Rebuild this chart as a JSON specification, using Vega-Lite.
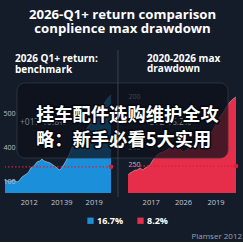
{
  "$schema": "https://vega.github.io/schema/vega-lite/v6.json",
  "background": "#141b29",
  "padding": {"left": 3, "top": 8, "right": 0, "bottom": 0},
  "autosize": {"type": "pad"},
  "bounds": "flush",
  "spacing": 17,
  "title": {
    "text": ["2026-Q1+ return comparison", "conplience max drawdown"],
    "anchor": "middle",
    "font": "Open Sans",
    "fontSize": 13.2,
    "fontWeight": "bold",
    "color": "#ffffff",
    "lineHeight": 14,
    "offset": 13
  },
  "config": {
    "view": {"stroke": null},
    "font": "Open Sans",
    "axis": {"grid": false, "domain": false, "ticks": false, "tickSize": 0, "title": null, "labelFont": "Open Sans"}
  },
  "resolve": {"scale": {"color": "shared"}},
  "hconcat": [
    {
      "width": 106,
      "height": 143,
      "title": {"text": ["2026 Q1+ return:", "benchmark"], "anchor": "start", "dx": 10, "font": "Open Sans", "fontSize": 10, "fontWeight": "bold", "color": "#ffffff", "lineHeight": 10.5, "offset": -24.5, "frame": "group"},
      "layer": [
        {
          "data": {"values": [
            {"t": 2009.80, "v": 77, "s": "16.7%"}, {"t": 2010.08, "v": 71, "s": "16.7%"}, {"t": 2010.35, "v": 71, "s": "16.7%"},
            {"t": 2010.63, "v": 77, "s": "16.7%"}, {"t": 2010.91, "v": 65, "s": "16.7%"}, {"t": 2011.09, "v": 71, "s": "16.7%"},
            {"t": 2011.37, "v": 95, "s": "16.7%"}, {"t": 2011.65, "v": 107, "s": "16.7%"}, {"t": 2011.93, "v": 119, "s": "16.7%"},
            {"t": 2012.20, "v": 148, "s": "16.7%"}, {"t": 2012.48, "v": 160, "s": "16.7%"}, {"t": 2012.76, "v": 184, "s": "16.7%"},
            {"t": 2013.03, "v": 190, "s": "16.7%"}, {"t": 2013.22, "v": 201, "s": "16.7%"}, {"t": 2013.40, "v": 190, "s": "16.7%"},
            {"t": 2013.68, "v": 184, "s": "16.7%"}, {"t": 2013.96, "v": 178, "s": "16.7%"}, {"t": 2014.24, "v": 166, "s": "16.7%"},
            {"t": 2014.51, "v": 154, "s": "16.7%"}, {"t": 2014.70, "v": 142, "s": "16.7%"}, {"t": 2014.88, "v": 136, "s": "16.7%"},
            {"t": 2015.16, "v": 160, "s": "16.7%"}, {"t": 2015.44, "v": 190, "s": "16.7%"}, {"t": 2015.71, "v": 225, "s": "16.7%"},
            {"t": 2015.99, "v": 267, "s": "16.7%"}, {"t": 2016.36, "v": 302, "s": "16.7%"}, {"t": 2016.73, "v": 326, "s": "16.7%"},
            {"t": 2017.10, "v": 356, "s": "16.7%"}, {"t": 2017.47, "v": 391, "s": "16.7%"}, {"t": 2017.84, "v": 427, "s": "16.7%"},
            {"t": 2018.21, "v": 456, "s": "16.7%"}, {"t": 2018.58, "v": 492, "s": "16.7%"}, {"t": 2018.95, "v": 527, "s": "16.7%"},
            {"t": 2019.32, "v": 563, "s": "16.7%"}, {"t": 2019.60, "v": 581, "s": "16.7%"}
          ]},
          "layer": [
            {
              "mark": {"type": "area", "opacity": 1},
              "encoding": {
                "x": {"field": "t", "type": "quantitative", "scale": {"domain": [2009.8, 2019.6], "nice": false, "zero": false},
                  "axis": {"values": [2012, 2015, 2018], "labelExpr": "datum.value == 2012 ? '2012' : datum.value == 2015 ? '20139' : '2019'", "labelColor": "#c3cad5", "labelFontSize": 7.5, "labelPadding": 5}},
                "y": {"field": "v", "type": "quantitative", "scale": {"domain": [0, 847], "nice": false, "zero": true},
                  "axis": {"values": [70, 170, 270, 370, 470, 570], "labelExpr": "datum.value == 70 ? '100' : datum.value == 170 ? '200' : datum.value == 270 ? '400' : datum.value == 370 ? '400' : datum.value == 470 ? '500' : '300'", "labelAlign": "left", "labelPadding": 2, "labelColor": "#b8c0cc", "labelFontSize": 7, "zindex": 1}},
                "color": {"field": "s", "type": "nominal", "scale": {"domain": ["16.7%", "8.2%"], "range": ["#1b8fd9", "#e62e4a"]},
                  "legend": {"orient": "none", "legendX": 81, "legendY": 166, "direction": "horizontal", "title": null, "symbolType": "square", "symbolSize": 40, "symbolStrokeWidth": 0, "symbolOpacity": 1, "labelColor": "#ffffff", "labelFontSize": 9, "labelFontWeight": "bold", "labelFont": "Open Sans", "labelOffset": 2, "columnPadding": 12}}
              }
            },
            {
              "mark": {"type": "line", "color": "#cfe6fa", "strokeWidth": 0.7, "opacity": 0.8},
              "encoding": {"x": {"field": "t", "type": "quantitative"}, "y": {"field": "v", "type": "quantitative"}}
            }
          ]
        },
        {
          "data": {"values": [{"t": 2019.6, "v": 155}]},
          "layer": [
            {"mark": {"type": "rule", "color": "#d91f3a", "strokeDash": [1.5, 2], "strokeWidth": 1.4}, "encoding": {"y": {"field": "v", "type": "quantitative"}}},
            {"mark": {"type": "point", "filled": true, "color": "#d91f3a", "size": 22, "opacity": 1}, "encoding": {"x": {"field": "t", "type": "quantitative"}, "y": {"field": "v", "type": "quantitative"}}}
          ]
        }
      ]
    },
    {
      "width": 108,
      "height": 143,
      "title": {"text": ["2020-2026 max", "drawdown"], "anchor": "start", "dx": 19, "font": "Open Sans", "fontSize": 10, "fontWeight": "bold", "color": "#ffffff", "lineHeight": 10.5, "offset": -24.5, "frame": "group"},
      "layer": [
        {
          "data": {"values": [
            {"t": 2009.90, "v": 107, "s": "8.2%"}, {"t": 2010.09, "v": 119, "s": "8.2%"}, {"t": 2010.27, "v": 124, "s": "8.2%"},
            {"t": 2010.55, "v": 136, "s": "8.2%"}, {"t": 2010.73, "v": 136, "s": "8.2%"}, {"t": 2011.01, "v": 148, "s": "8.2%"},
            {"t": 2011.29, "v": 136, "s": "8.2%"}, {"t": 2011.47, "v": 148, "s": "8.2%"}, {"t": 2011.66, "v": 154, "s": "8.2%"},
            {"t": 2011.94, "v": 166, "s": "8.2%"}, {"t": 2012.21, "v": 196, "s": "8.2%"}, {"t": 2012.59, "v": 225, "s": "8.2%"},
            {"t": 2012.86, "v": 237, "s": "8.2%"}, {"t": 2013.14, "v": 243, "s": "8.2%"}, {"t": 2013.51, "v": 255, "s": "8.2%"},
            {"t": 2013.79, "v": 267, "s": "8.2%"}, {"t": 2014.16, "v": 273, "s": "8.2%"}, {"t": 2014.44, "v": 273, "s": "8.2%"},
            {"t": 2014.71, "v": 261, "s": "8.2%"}, {"t": 2014.99, "v": 243, "s": "8.2%"}, {"t": 2015.36, "v": 255, "s": "8.2%"},
            {"t": 2015.64, "v": 273, "s": "8.2%"}, {"t": 2015.92, "v": 284, "s": "8.2%"}, {"t": 2016.29, "v": 290, "s": "8.2%"},
            {"t": 2016.57, "v": 296, "s": "8.2%"}, {"t": 2016.94, "v": 308, "s": "8.2%"}, {"t": 2017.21, "v": 320, "s": "8.2%"},
            {"t": 2017.49, "v": 344, "s": "8.2%"}, {"t": 2017.77, "v": 373, "s": "8.2%"}, {"t": 2018.14, "v": 421, "s": "8.2%"},
            {"t": 2018.42, "v": 450, "s": "8.2%"}, {"t": 2018.79, "v": 486, "s": "8.2%"}, {"t": 2019.07, "v": 516, "s": "8.2%"},
            {"t": 2019.34, "v": 539, "s": "8.2%"}, {"t": 2019.62, "v": 557, "s": "8.2%"}, {"t": 2019.90, "v": 569, "s": "8.2%"}
          ]},
          "layer": [
            {
              "mark": {"type": "area", "opacity": 1},
              "encoding": {
                "x": {"field": "t", "type": "quantitative", "scale": {"domain": [2009.9, 2019.9], "nice": false, "zero": false},
                  "axis": {"values": [2012, 2015, 2018], "labelExpr": "datum.value == 2012 ? '2017' : datum.value == 2015 ? '2026' : '2019'", "labelColor": "#c3cad5", "labelFontSize": 7.5, "labelPadding": 5}},
                "y": {"field": "v", "type": "quantitative", "scale": {"domain": [0, 847], "nice": false, "zero": true},
                  "axis": {"values": [170, 270, 570], "labelExpr": "datum.value == 570 ? '200' : '250'", "labelAlign": "left", "labelPadding": 0, "labelColor": "#b8c0cc", "labelFontSize": 7, "zindex": 0}},
                "color": {"field": "s", "type": "nominal"}
              }
            },
            {
              "mark": {"type": "line", "color": "#f7c6cf", "strokeWidth": 0.7, "opacity": 0.7},
              "encoding": {"x": {"field": "t", "type": "quantitative"}, "y": {"field": "v", "type": "quantitative"}}
            }
          ]
        },
        {
          "data": {"values": [{"t": 2019.9, "v": 160}]},
          "layer": [
            {"mark": {"type": "rule", "color": "#d91f3a", "strokeDash": [1.5, 2], "strokeWidth": 1.4}, "encoding": {"y": {"field": "v", "type": "quantitative"}}},
            {"mark": {"type": "point", "filled": true, "color": "#d91f3a", "size": 22, "opacity": 1}, "encoding": {"x": {"field": "t", "type": "quantitative"}, "y": {"field": "v", "type": "quantitative"}}}
          ]
        },
        {
          "data": {"values": [{}]},
          "mark": {"type": "rect", "fill": "#0c111b", "fillOpacity": 0.72, "stroke": "#323a48", "strokeWidth": 0.8, "cornerRadius": 8},
          "encoding": {
            "x": {"datum": 1999.62, "type": "quantitative"}, "x2": {"datum": 2019.16},
            "y": {"datum": 652, "type": "quantitative"}, "y2": {"datum": 207}
          }
        },
        {
          "data": {"values": [{"label": "+017-10.8%", "t": 1999.9, "v": 421}, {"label": "+572-16.2%", "t": 2011.47, "v": 421}]},
          "mark": {"type": "text", "align": "left", "baseline": "middle", "fontSize": 8.5, "color": "#7c8594", "font": "Open Sans"},
          "encoding": {"x": {"field": "t", "type": "quantitative"}, "y": {"field": "v", "type": "quantitative"}, "text": {"field": "label"}}
        },
        {
          "data": {"values": [{"txt": "挂车配件选购维护全攻\n略：新手必看5大实用", "t": 2001.38, "v": 456}]},
          "layer": [
            {
              "mark": {"type": "text", "lineBreak": "\n", "align": "left", "baseline": "middle", "fontSize": 18.3, "lineHeight": 25, "font": "Noto Sans CJK SC", "fontWeight": "bold", "fill": "#05080e", "stroke": "#05080e", "strokeWidth": 3, "strokeJoin": "round"},
              "encoding": {"x": {"field": "t", "type": "quantitative"}, "y": {"field": "v", "type": "quantitative"}, "text": {"field": "txt"}}
            },
            {
              "mark": {"type": "text", "lineBreak": "\n", "align": "left", "baseline": "middle", "fontSize": 18.3, "lineHeight": 25, "font": "Noto Sans CJK SC", "fontWeight": "bold", "fill": "#ffffff"},
              "encoding": {"x": {"field": "t", "type": "quantitative"}, "y": {"field": "v", "type": "quantitative"}, "text": {"field": "txt"}}
            }
          ]
        },
        {
          "data": {"values": [{}]},
          "mark": {"type": "rule", "color": "#3a4252", "strokeWidth": 1},
          "encoding": {"x": {"datum": 2008.97, "type": "quantitative"}, "y": {"datum": 847, "type": "quantitative"}, "y2": {"datum": -24}}
        },
        {
          "data": {"values": [{"note": "Plamser 2012", "t": 2020.46, "v": -261}]},
          "mark": {"type": "text", "align": "right", "baseline": "middle", "fontSize": 8, "color": "#9aa3b0", "font": "Open Sans"},
          "encoding": {"x": {"field": "t", "type": "quantitative"}, "y": {"field": "v", "type": "quantitative"}, "text": {"field": "note"}}
        }
      ]
    }
  ]
}
